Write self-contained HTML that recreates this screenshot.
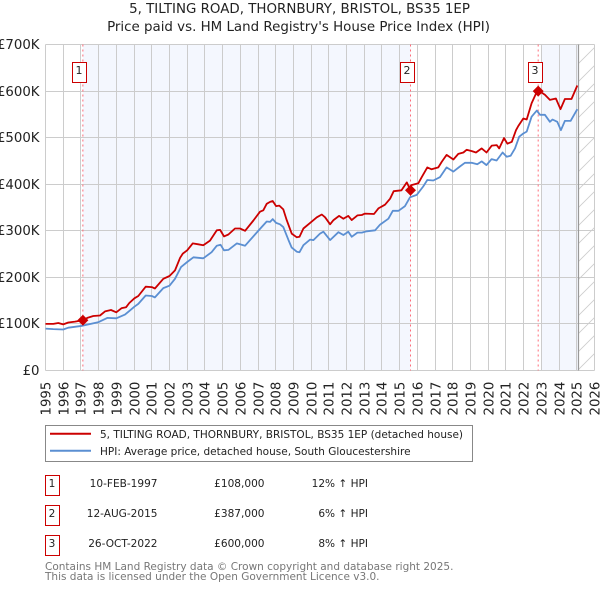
<!DOCTYPE html>
<html lang="en">
<head>
<meta charset="utf-8">
<title>5, Tilting Road price chart</title>
<style>
html,body{margin:0;padding:0;background:#fff;width:600px;height:590px;overflow:hidden}
svg{display:block}
text{font-family:"DejaVu Sans","Liberation Sans",sans-serif;fill:#222}
</style>
</head>
<body>
<svg id="chart" width="600" height="590" viewBox="0 0 600 590" xmlns="http://www.w3.org/2000/svg">
  <defs>
    <pattern id="hatch" width="18" height="18" patternUnits="userSpaceOnUse" patternTransform="translate(578 10)">
      <path d="M-2 20L20 -2M-2 2L2 -2M16 20L20 16" stroke="#cccccc" stroke-width="0.8" fill="none"/>
    </pattern>
  </defs>
  <text x="299.5" y="13" text-anchor="middle" font-size="13.4">5, TILTING ROAD, THORNBURY, BRISTOL, BS35 1EP</text>
  <text x="298.5" y="31" text-anchor="middle" font-size="13.4">Price paid vs. HM Land Registry's House Price Index (HPI)</text>
  <g id="plot"></g>

  <g>
    <rect x="45.5" y="425.5" width="427" height="36" fill="#fff" stroke="#888" stroke-width="1"/>
    <line x1="50" x2="91" y1="433.7" y2="433.7" stroke="#cc0000" stroke-width="2"/>
    <text x="100" y="438" font-size="10.5">5, TILTING ROAD, THORNBURY, BRISTOL, BS35 1EP (detached house)</text>
    <line x1="50" x2="91" y1="450.8" y2="450.8" stroke="#5b8fd2" stroke-width="2"/>
    <text x="100" y="455" font-size="10.5">HPI: Average price, detached house, South Gloucestershire</text>
  </g>

  <g font-size="10.55">
    <rect x="45.5" y="475.5" width="14" height="20" fill="#fff" stroke="#c00"/>
    <text x="52" y="487" text-anchor="middle">1</text>
    <text x="157.5" y="487" text-anchor="end">10-FEB-1997</text>
    <text x="264.5" y="487" text-anchor="end">£108,000</text>
    <text x="368" y="487" text-anchor="end">12% ↑ HPI</text>

    <rect x="45.5" y="505.5" width="14" height="20" fill="#fff" stroke="#c00"/>
    <text x="52" y="517" text-anchor="middle">2</text>
    <text x="157.5" y="517" text-anchor="end">12-AUG-2015</text>
    <text x="264.5" y="517" text-anchor="end">£387,000</text>
    <text x="368" y="517" text-anchor="end">6% ↑ HPI</text>

    <rect x="45.5" y="535.5" width="14" height="20" fill="#fff" stroke="#c00"/>
    <text x="52" y="547" text-anchor="middle">3</text>
    <text x="157.5" y="547" text-anchor="end">26-OCT-2022</text>
    <text x="264.5" y="547" text-anchor="end">£600,000</text>
    <text x="368" y="547" text-anchor="end">8% ↑ HPI</text>
  </g>

  <text x="45" y="570" font-size="10.5" style="fill:#777">Contains HM Land Registry data © Crown copyright and database right 2025.</text>
  <text x="45" y="580" font-size="10.5" style="fill:#777">This data is licensed under the Open Government Licence v3.0.</text>
</svg>
<script>
const yearTicks = [1995,1996,1997,1998,1999,2000,2001,2002,2003,2004,2005,2006,2007,2008,2009,2010,2011,2012,2013,2014,2015,2016,2017,2018,2019,2020,2021,2022,2023,2024,2025,2026];
const valueTicks = [0,100,200,300,400,500,600,700];
const valueTickLabels = ["£0","£100K","£200K","£300K","£400K","£500K","£600K","£700K"];

const priceYears = [
1995,1995.44,1995.72,1996,1996.29,1996.67,1997.11,1997.36,1997.7,1998.08,
1998.36,1998.7,1999,1999.3,1999.55,1999.73,2000.02,2000.24,2000.66,2001,
2001.18,2001.65,2002,2002.31,2002.6,2002.75,2003,2003.31,2003.63,2003.91,
2004.29,2004.67,2004.86,2005.08,2005.33,2005.7,2005.98,2006.27,2006.74,2007.11,
2007.3,2007.49,2007.68,2007.83,2008.02,2008.2,2008.43,2008.62,2008.9,2009.19,
2009.34,2009.56,2009.94,2010.32,2010.6,2010.79,2011.07,2011.26,2011.58,2011.82,
2012.1,2012.29,2012.61,2012.86,2013.04,2013.55,2013.8,2014.17,2014.46,2014.66,
2015.1,2015.4,2015.61,2015.66,2016.05,2016.24,2016.56,2016.8,2017.18,2017.37,
2017.65,2018.03,2018.31,2018.6,2018.78,2019.07,2019.31,2019.63,2019.9,2020.2,
2020.48,2020.62,2020.89,2021.08,2021.33,2021.57,2021.7,2021.98,2022.17,2022.45,
2022.7,2022.82,2022.92,2023.2,2023.48,2023.82,2024.08,2024.33,2024.7,2025.03];
const priceValues = [
100,100,102,99,103,105,108,113,117,118,
127,130,125,134,136,145,155,160,180,179,
176,197,203,215,242,251,258,273,271,269,
279,301,302,288,292,305,305,300,322,341,
344,358,362,364,353,354,346,323,294,286,
287,305,317,329,335,329,314,323,332,326,
332,323,333,334,337,336,348,356,369,385,
387,404,387,398,402,415,436,432,436,448,
463,453,465,468,474,471,468,477,468,483,
484,477,499,487,491,516,525,541,539,574,
595,600,599,592,581,584,561,583,583,612];

const hpiYears = [
1995,1995.44,1996,1996.29,1997.08,1998,1998.49,1999,1999.49,2000.02,
2000.24,2000.66,2001,2001.18,2001.65,2002,2002.31,2002.65,2003,2003.35,
2003.91,2004.38,2004.67,2004.89,2005.08,2005.33,2005.8,2006.27,2007.11,2007.49,
2007.68,2007.83,2008.02,2008.24,2008.43,2008.72,2008.9,2009.19,2009.34,2009.56,
2009.94,2010.13,2010.5,2010.69,2011.07,2011.54,2011.82,2012.1,2012.29,2012.61,
2012.86,2013.14,2013.61,2013.89,2014.36,2014.61,2014.93,2015.3,2015.58,2015.96,
2016.33,2016.56,2016.9,2017.27,2017.65,2018.03,2018.4,2018.68,2019.06,2019.38,
2019.63,2019.9,2020.19,2020.47,2020.81,2021.04,2021.26,2021.51,2021.75,2021.98,
2022.17,2022.45,2022.74,2022.92,2023.2,2023.48,2023.63,2023.9,2024.1,2024.33,
2024.65,2025.03];
const hpiValues = [
90,89,88,92,96,104,113,112,120,137,
143,161,160,157,177,182,197,222,233,243,
241,254,268,270,258,259,273,268,304,320,
319,325,317,314,308,280,264,255,254,269,
281,280,294,298,280,297,291,298,287,296,
296,299,301,313,326,343,343,353,372,377,
395,409,408,415,436,427,438,446,446,443,
449,441,454,451,468,459,461,477,502,509,
513,545,558,549,549,534,539,534,516,536,
536,561];

const saleYears = [1997.11,2015.61,2022.82];
const saleValues = [108,387,600];
const saleLabels = ["1","2","3"];

const NS = "http://www.w3.org/2000/svg";
const plot = document.getElementById("plot");
const X0 = 45.5, X1 = 594.5, Y0 = 370.5, Y1 = 44.5;
const xOf = y => X0 + (y - 1995) * (X1 - X0) / 31;
const yOf = v => Y0 - v * (Y0 - Y1) / 700;
const snap = p => Math.floor(p) + 0.5;
function mk(tag, attrs, parent) {
  const n = document.createElementNS(NS, tag);
  for (const k in attrs) n.setAttribute(k, attrs[k]);
  (parent || plot).appendChild(n);
  return n;
}
let el;

el = mk("rect", {x: xOf(saleYears[0]), y: Y1, width: xOf(saleYears[1]) - xOf(saleYears[0]), height: Y0 - Y1, fill: "#f4f7fe"});


el = mk("rect", {x: xOf(2023), y: Y1, width: xOf(2025.08) - xOf(2023), height: Y0 - Y1, fill: "#f4f7fe"});


el = mk("rect", {x: xOf(2025.08), y: Y1, width: X1 - xOf(2025.08), height: Y0 - Y1, fill: "url(#hatch)"});



yearTicks.forEach(yr => {
  const x = snap(xOf(yr));
  el = mk("line", {x1: x, x2: x, y1: Y1, y2: Y0, stroke: "#cccccc", "stroke-width": 1});
  
  
  const t = mk("text", {x: 0, y: 0, "font-size": 13.3, transform: "translate(" + (x + 5) + " 415.5) rotate(-90)"});
  t.textContent = yr;
  
  
});
valueTicks.forEach((v, i) => {
  const y = snap(yOf(v));
  el = mk("line", {x1: X0, x2: X1, y1: y, y2: y, stroke: "#cccccc", "stroke-width": 1});
  
  
  const t = mk("text", {x: 39.5, y: y + 4.5, "font-size": 13.3, "text-anchor": "end"});
  t.textContent = valueTickLabels[i];
  
  
});

el = mk("line", {x1: snap(xOf(2025.08)), x2: snap(xOf(2025.08)), y1: Y1, y2: Y0, stroke: "#999", "stroke-width": 1.2});



saleYears.forEach(yr => {
  const x = xOf(yr);
  el = mk("line", {x1: x, x2: x, y1: Y1, y2: Y0, stroke: "#ff6b78", "stroke-width": 1, "stroke-dasharray": "2 3"});
  
  
});

const toPoints = (xs, vs) => xs.map((y, i) => xOf(y).toFixed(1) + "," + yOf(vs[i]).toFixed(1)).join(" ");
el = mk("polyline", {points: toPoints(hpiYears, hpiValues), fill: "none", stroke: "#5b8fd2", "stroke-width": 1.8, "stroke-linejoin": "round"});


el = mk("polyline", {points: toPoints(priceYears, priceValues), fill: "none", stroke: "#cc0000", "stroke-width": 1.8, "stroke-linejoin": "round"});



saleYears.forEach((yr, i) => {
  const x = xOf(yr), y = yOf(saleValues[i]), r = 5.5;
  el = mk("polygon", {points: [x - r, y, x, y - r, x + r, y, x, y + r].join(" "), fill: "#cc0000"});
  
  
  const bx = Math.floor(x) - 10 + 0.5;
  el = mk("rect", {x: bx, y: 62.5, width: 14, height: 20, fill: "#fff", stroke: "#cc0000", "stroke-width": 1});
  
  
  const t = mk("text", {x: bx + 6.5, y: 74, "font-size": 11, "text-anchor": "middle"});
  t.textContent = saleLabels[i];
  
  
});
</script>
</body>
</html>
